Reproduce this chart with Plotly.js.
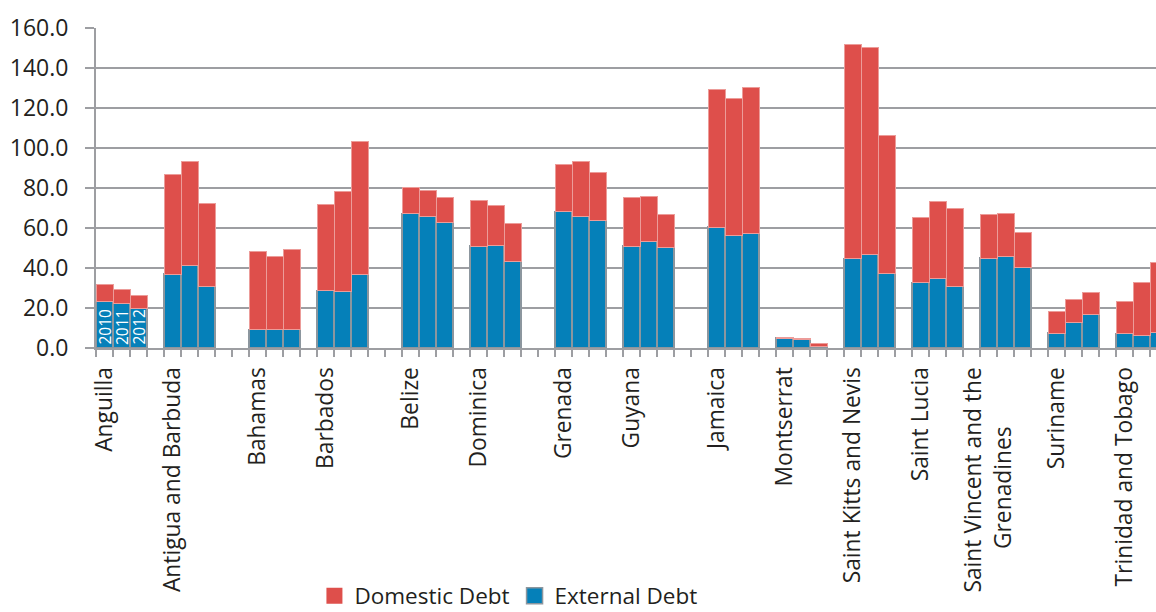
<!DOCTYPE html>
<html><head><meta charset="utf-8">
<script src="https://cdn.plot.ly/plotly-3.0.1.min.js"></script>
<style>html,body{margin:0;padding:0;background:#fff}</style>
</head><body><div id="chart" style="width:1156px;height:612px"></div>
<script>
// ---- data ----
const countries = ["Anguilla","Antigua and Barbuda","Bahamas","Barbados","Belize","Dominica","Grenada","Guyana","Jamaica","Montserrat","Saint Kitts and Nevis","Saint Lucia","Saint Vincent and the Grenadines","Suriname","Trinidad and Tobago"];
const years = ["2010","2011","2012"];
const external2010 = [23.5,37.0,9.2,28.7,67.2,51.0,68.3,51.0,60.5,5.0,44.7,32.7,45.0,7.5,7.2];
const external2011 = [22.2,41.3,9.3,28.3,65.8,51.3,66.0,53.3,56.5,4.5,47.0,34.7,46.0,12.7,6.2];
const external2012 = [19.7,30.8,9.5,37.0,63.0,43.5,63.8,50.2,57.2,1.0,37.2,30.7,40.3,17.0,7.7];
const domestic2010 = [8.3,49.8,39.0,43.1,13.3,22.7,23.7,24.3,68.8,0.4,107.0,32.8,21.7,10.8,16.0];
const domestic2011 = [7.0,52.2,36.5,50.2,13.0,20.2,27.2,22.5,68.5,0.3,103.5,38.6,21.3,11.5,26.6];
const domestic2012 = [6.6,41.4,39.7,66.2,12.3,18.7,23.9,16.5,73.1,1.2,69.0,39.3,17.5,10.7,35.0];
const tickLabels = ["Anguilla","Antigua and Barbuda","Bahamas","Barbados","Belize","Dominica","Grenada","Guyana","Jamaica","Montserrat","Saint Kitts and Nevis","Saint Lucia","Saint Vincent and the<br>Grenadines\u00a0\u00a0\u00a0\u00a0\u00a0\u00a0\u00a0\u00a0\u00a0\u00a0","Suriname","Trinidad and Tobago"];

// ---- layout config (empty category slots after each country group) ----
const blankSlotsAfter = [1,2,1,2,1,2,1,2,1,1,1,1,1,1,1];
const groupStart = [];
let pos = 0;
countries.forEach((c,i)=>{ groupStart.push(pos); pos += years.length + blankSlotsAfter[i]; });

const extByYear = [external2010, external2011, external2012];
const domByYear = [domestic2010, domestic2011, domestic2012];
const xs = [], ext = [], dom = [], hov = [];
countries.forEach((c,i)=>{
  years.forEach((yr,j)=>{
    xs.push(groupStart[i]+j);
    ext.push(extByYear[j][i]);
    dom.push(domByYear[j][i]);
    hov.push(c+" "+yr);
  });
});

const FONT = "Open Sans, sans-serif";
const GRID = "#9d9ea2";
const TXT = "#231f20";
const RED = "#de4f4b", BLUE = "#0580b9";

const traces = [
  {type:"bar", name:"External Debt", x:xs, y:ext, hovertext:hov, showlegend:false,
   marker:{color:BLUE, line:{color:"#8c969e", width:1.5}}},
  {type:"bar", name:"Domestic Debt", x:xs, y:dom, hovertext:hov, showlegend:false,
   marker:{color:RED, line:{color:"#ec9c99", width:1}}},
  // legend-only entries (larger square swatches)
  {type:"scatter", mode:"markers", name:"Domestic Debt", x:[null], y:[null], showlegend:true,
   marker:{symbol:"square", size:16, color:RED, line:{width:0}}},
  {type:"scatter", mode:"markers", name:"External Debt", x:[null], y:[null], showlegend:true,
   marker:{symbol:"square", size:16, color:BLUE, line:{color:"#8c969e", width:1.5}}}
];

const annotations = years.map((yr,j)=>({
  x: groupStart[0]+j, y: 0, xref:"x", yref:"y", text: yr, showarrow:false,
  textangle:-90, yanchor:"bottom", xanchor:"center", yshift:1,
  font:{family:FONT, size:15.5, color:"#ffffff"}
}));

const layout = {
  width:1156, height:612,
  margin:{l:96, r:0, t:28, b:264, pad:0},
  paper_bgcolor:"#fff", plot_bgcolor:"#fff",
  barmode:"stack", bargap:0,
  font:{family:FONT, color:TXT},
  showlegend:true,
  legend:{orientation:"h", traceorder:"normal", xref:"container", yref:"container",
          x:0.272, xanchor:"left", y:0.026, yanchor:"middle",
          font:{family:FONT, size:22.5, color:TXT}, itemwidth:30},
  xaxis:{type:"linear", range:[-0.5, 61.85], tickmode:"array", tickvals:groupStart.map(s=>s), ticktext:tickLabels,
         tickangle:-90, ticks:"", showgrid:false, zeroline:false,
         showline:true, linecolor:GRID, linewidth:2,
         tickfont:{family:FONT, size:22.8, color:TXT}, ticklabelstandoff:8,
         minor:{tickmode:"linear", tick0:0.5, dtick:1, ticks:"outside", ticklen:7, tickcolor:GRID, tickwidth:2, showgrid:false}},
  yaxis:{range:[0,160], tickmode:"array", tickvals:[0,20,40,60,80,100,120,140,160], tickformat:".1f",
         showgrid:true, gridcolor:GRID, gridwidth:2, zeroline:false,
         showline:true, linecolor:GRID, linewidth:2,
         ticks:"outside", ticklen:9, tickcolor:GRID, tickwidth:2, ticklabelstandoff:12,
         tickfont:{family:FONT, size:23, color:TXT}},
  annotations:annotations
};

Plotly.newPlot("chart", traces, layout, {displayModeBar:false, staticPlot:true});
</script></body></html>
